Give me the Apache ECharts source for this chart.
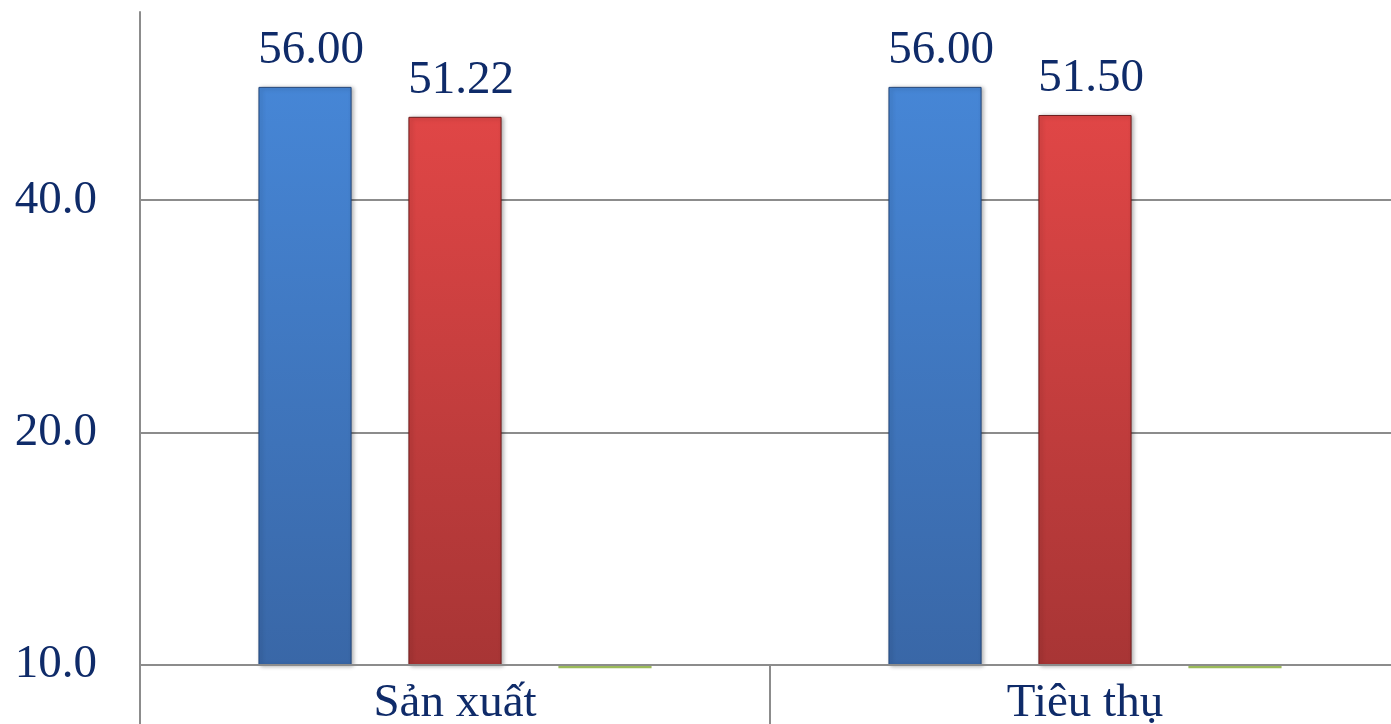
<!DOCTYPE html>
<html>
<head>
<meta charset="utf-8">
<script src="https://cdn.jsdelivr.net/npm/echarts@6/dist/echarts.min.js"></script>
<style>
  html, body { margin: 0; padding: 0; background: #ffffff; }
  #chart { width: 1391px; height: 724px; }
</style>
</head>
<body>
<div id="chart"></div>
<script>
// Categories and series values
const categories = ['Sản xuất', 'Tiêu thụ'];
const blueValues = [56.00, 56.00];
const redValues = [51.22, 51.50];
const greenValues = [9.9, 9.9];

const FONT = "'Liberation Serif', 'Times New Roman', serif";
const TEXT_COLOR = '#0F2B69';

function vGrad(top, bottom) {
  return new echarts.graphic.LinearGradient(0, 0, 0, 1, [
    { offset: 0, color: top },
    { offset: 1, color: bottom }
  ]);
}

const valueLabel = {
  show: true,
  position: 'top',
  distance: 13,
  offset: [6, 0],
  fontFamily: FONT,
  fontSize: 47,
  color: TEXT_COLOR,
  formatter: p => p.value.toFixed(2)
};

const chart = echarts.init(document.getElementById('chart'), null, { renderer: 'canvas' });

chart.setOption({
  animation: false,
  backgroundColor: '#ffffff',
  grid: { left: 140, right: -9, top: 12, bottom: 59, containLabel: false, outerBoundsMode: 'none' },
  xAxis: {
    type: 'category',
    data: categories,
    boundaryGap: true,
    z: 3,
    axisLine: { show: true, lineStyle: { color: '#8C8C8C', width: 2 } },
    axisTick: { show: true, interval: 0, length: 62, lineStyle: { color: '#8C8C8C', width: 2 } },
    axisLabel: { fontFamily: FONT, fontSize: 47, color: TEXT_COLOR, margin: 15 }
  },
  yAxis: {
    type: 'log',
    logBase: 2,
    min: 10,
    max: 70,
    interval: 1,
    startValue: 10,
    axisLine: { show: true, lineStyle: { color: '#8C8C8C', width: 2 } },
    axisTick: { show: false },
    axisLabel: {
      fontFamily: FONT, fontSize: 47, color: TEXT_COLOR, margin: 43,
      showMaxLabel: false,
      formatter: v => Math.round(v).toFixed(1)
    },
    splitLine: { show: true, showMinLine: false, showMaxLine: false, lineStyle: { color: '#8C8C8C', width: 2 } }
  },
  series: [
    {
      type: 'bar',
      data: blueValues,
      barGap: '61%',
      barCategoryGap: '37.6%',
      itemStyle: {
        color: vGrad('#4686D6', '#3967A7'), borderColor: '#24477A', borderWidth: 1,
        shadowColor: 'rgba(0,0,0,0.3)', shadowBlur: 4, shadowOffsetX: 2, shadowOffsetY: 1
      },
      label: valueLabel
    },
    {
      type: 'bar',
      data: redValues,
      itemStyle: {
        color: vGrad('#E04646', '#A83535'), borderColor: '#6E1E1E', borderWidth: 1,
        shadowColor: 'rgba(0,0,0,0.3)', shadowBlur: 4, shadowOffsetX: 2, shadowOffsetY: 1
      },
      label: valueLabel
    },
    {
      type: 'bar',
      data: greenValues,
      clip: false,
      itemStyle: { color: '#9BBB59' }
    }
  ]
});
</script>
</body>
</html>
